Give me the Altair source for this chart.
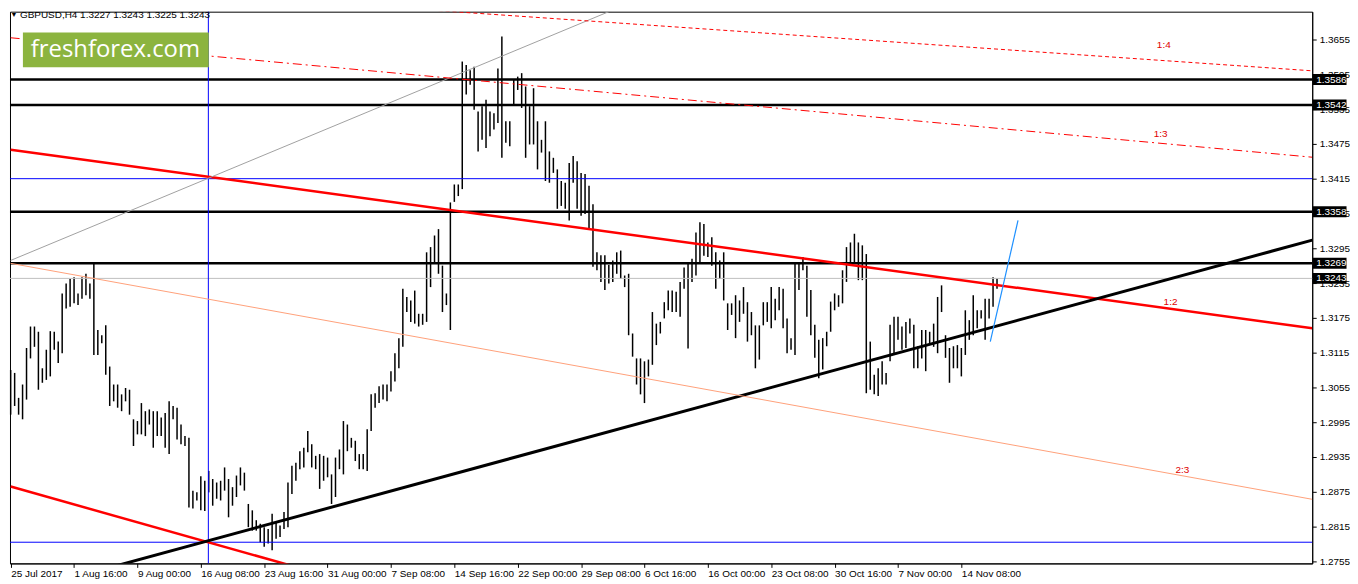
import altair as alt
import pandas as pd

highs = [
    1.3085, 1.3080, 1.3037, 1.3060, 1.3123, 1.3160, 1.3160, 1.3151, 1.3088, 1.3120,
    1.3152, 1.3151, 1.3134, 1.3217, 1.3234, 1.3242, 1.3245, 1.3217, 1.3245, 1.3251,
    1.3234, 1.3268, 1.3154, 1.3145, 1.3162, 1.3091, 1.3060, 1.3060, 1.3043, 1.3054,
    1.3051, 1.3000, 1.2997, 1.3028, 1.3014, 1.3017, 1.3014, 1.3014, 1.3003, 1.3011,
    1.3031, 1.3023, 1.3020, 1.2991, 1.2971, 1.2968, 1.2877, 1.2874, 1.2902, 1.2894,
    1.2911, 1.2897, 1.2891, 1.2894, 1.2917, 1.2897, 1.2883, 1.2903, 1.2917, 1.2908,
    1.2854, 1.2843, 1.2826, 1.2820, 1.2814, 1.2811, 1.2837, 1.2823, 1.2817, 1.2840,
    1.2891, 1.2920, 1.2925, 1.2945, 1.2951, 1.2980, 1.2957, 1.2937, 1.2940, 1.2937,
    1.2934, 1.2905, 1.2934, 1.2948, 1.2997, 1.2991, 1.2968, 1.2963, 1.2940, 1.2940,
    1.2983, 1.3043, 1.3045, 1.3057, 1.3060, 1.3060, 1.3083, 1.3114, 1.3140, 1.3225,
    1.3211, 1.3205, 1.3222, 1.3182, 1.3182, 1.3288, 1.3297, 1.3317, 1.3328, 1.3265,
    1.3217, 1.3374, 1.3405, 1.3405, 1.3617, 1.3611, 1.3602, 1.3608, 1.3531, 1.3540,
    1.3551, 1.3531, 1.3528, 1.3605, 1.3660, 1.3514, 1.3514, 1.3585, 1.3591, 1.3597,
    1.3574, 1.3540, 1.3571, 1.3514, 1.3482, 1.3514, 1.3462, 1.3451, 1.3431, 1.3411,
    1.3408, 1.3442, 1.3454, 1.3445, 1.3425, 1.3423, 1.3403, 1.3371, 1.3288, 1.3283,
    1.3283, 1.3266, 1.3274, 1.3288, 1.3291, 1.3248, 1.3251, 1.3148, 1.3105, 1.3105,
    1.3100, 1.3103, 1.3185, 1.3165, 1.3168, 1.3202, 1.3222, 1.3222, 1.3220, 1.3237,
    1.3262, 1.3271, 1.3277, 1.3322, 1.3340, 1.3337, 1.3305, 1.3314, 1.3288, 1.3274,
    1.3288, 1.3200, 1.3200, 1.3214, 1.3205, 1.3228, 1.3202, 1.3185, 1.3162, 1.3162,
    1.3202, 1.3202, 1.3228, 1.3208, 1.3228, 1.3225, 1.3174, 1.3140, 1.3268, 1.3271,
    1.3280, 1.3265, 1.3223, 1.3163, 1.3137, 1.3140, 1.3151, 1.3203, 1.3217, 1.3214,
    1.3257, 1.3297, 1.3305, 1.3320, 1.3305, 1.3300, 1.3285, 1.3134, 1.3077, 1.3088,
    1.3100, 1.3080, 1.3163, 1.3177, 1.3177, 1.3160, 1.3168, 1.3174, 1.3163, 1.3126,
    1.3154, 1.3154, 1.3151, 1.3165, 1.3211, 1.3231, 1.3145, 1.3123, 1.3126, 1.3128,
    1.3123, 1.3188, 1.3171, 1.3214, 1.3188, 1.3188, 1.3208, 1.3208, 1.3245, 1.3243,
]
lows = [
    1.3008, 1.3023, 1.3008, 1.3000, 1.3034, 1.3105, 1.3125, 1.3051, 1.3063, 1.3068,
    1.3074, 1.3120, 1.3097, 1.3114, 1.3191, 1.3194, 1.3200, 1.3197, 1.3208, 1.3214,
    1.3208, 1.3111, 1.3111, 1.3131, 1.3077, 1.3023, 1.3031, 1.3020, 1.3014, 1.3031,
    1.3008, 1.2954, 1.2974, 1.2974, 1.2971, 1.2991, 1.2951, 1.2971, 1.2971, 1.2951,
    1.2940, 1.3000, 1.2965, 1.2957, 1.2954, 1.2848, 1.2846, 1.2860, 1.2843, 1.2842,
    1.2874, 1.2851, 1.2863, 1.2860, 1.2877, 1.2831, 1.2851, 1.2866, 1.2886, 1.2877,
    1.2814, 1.2808, 1.2808, 1.2788, 1.2780, 1.2786, 1.2774, 1.2794, 1.2797, 1.2811,
    1.2814, 1.2871, 1.2894, 1.2914, 1.2917, 1.2943, 1.2917, 1.2914, 1.2880, 1.2894,
    1.2900, 1.2854, 1.2866, 1.2914, 1.2905, 1.2945, 1.2951, 1.2928, 1.2914, 1.2914,
    1.2911, 1.2980, 1.3020, 1.3028, 1.3034, 1.3031, 1.3048, 1.3065, 1.3088, 1.3125,
    1.3185, 1.3168, 1.3165, 1.3160, 1.3163, 1.3168, 1.3228, 1.3271, 1.3251, 1.3185,
    1.3197, 1.3154, 1.3375, 1.3385, 1.3397, 1.3560, 1.3577, 1.3534, 1.3462, 1.3482,
    1.3468, 1.3488, 1.3500, 1.3511, 1.3451, 1.3477, 1.3471, 1.3542, 1.3568, 1.3537,
    1.3451, 1.3474, 1.3474, 1.3431, 1.3460, 1.3411, 1.3408, 1.3425, 1.3363, 1.3368,
    1.3363, 1.3343, 1.3408, 1.3363, 1.3351, 1.3354, 1.3328, 1.3263, 1.3257, 1.3237,
    1.3223, 1.3234, 1.3237, 1.3251, 1.3242, 1.3228, 1.3145, 1.3108, 1.3060, 1.3043,
    1.3028, 1.3074, 1.3094, 1.3128, 1.3148, 1.3174, 1.3188, 1.3185, 1.3185, 1.3177,
    1.3225, 1.3122, 1.3237, 1.3248, 1.3271, 1.3282, 1.3280, 1.3265, 1.3225, 1.3242,
    1.3205, 1.3154, 1.3180, 1.3140, 1.3168, 1.3182, 1.3134, 1.3145, 1.3088, 1.3103,
    1.3162, 1.3168, 1.3157, 1.3171, 1.3188, 1.3157, 1.3114, 1.3120, 1.3111, 1.3223,
    1.3257, 1.3177, 1.3145, 1.3106, 1.3071, 1.3086, 1.3126, 1.3151, 1.3188, 1.3194,
    1.3200, 1.3237, 1.3271, 1.3271, 1.3240, 1.3240, 1.3045, 1.3051, 1.3043, 1.3040,
    1.3060, 1.3060, 1.3100, 1.3114, 1.3137, 1.3120, 1.3123, 1.3148, 1.3088, 1.3088,
    1.3105, 1.3083, 1.3131, 1.3125, 1.3114, 1.3185, 1.3106, 1.3063, 1.3088, 1.3088,
    1.3074, 1.3111, 1.3137, 1.3145, 1.3157, 1.3174, 1.3137, 1.3174, 1.3194, 1.3225,
]

# time axis: one tick every 16 entries
tick_labels = [
    "25 Jul 2017", "1 Aug 16:00", "9 Aug 00:00", "16 Aug 08:00", "23 Aug 16:00",
    "31 Aug 00:00", "7 Sep 08:00", "14 Sep 16:00", "22 Sep 00:00", "29 Sep 08:00",
    "6 Oct 16:00", "16 Oct 00:00", "23 Oct 08:00", "30 Oct 16:00", "7 Nov 00:00",
    "14 Nov 08:00",
]
price_ticks = [1.2755, 1.2815, 1.2875, 1.2935, 1.2995, 1.3055, 1.3115, 1.3175,
               1.3235, 1.3295, 1.3355, 1.3415, 1.3475, 1.3535, 1.3595, 1.3655]

# horizontal levels
thick_levels = [1.3586, 1.3542, 1.3358, 1.3269]
blue_levels = [1.3415, 1.2788]
bid_price = 1.3243
marked_prices = [1.3586, 1.3542, 1.3358, 1.3269, 1.3243]
vline_at = [49.9]

# drawn trend / fan lines: (bar position, price) at both ends
line_names = ["fan_1_2", "red_low", "black_trend", "fan_2_3", "gray", "fan_1_4", "fan_1_3", "blue"]
line_i0 = [0.0, 0.0, 20.0, 0.0, 0.0, 80.0, 0.0, 247.3]
line_p0 = [1.3465, 1.2884, 1.2735, 1.3269, 1.3274, 1.3718, 1.3658, 1.3134]
line_i1 = [328.6, 80.0, 328.6, 328.6, 170.0, 328.6, 328.6, 254.3]
line_p1 = [1.3157, 1.2730, 1.3309, 1.2862, 1.3757, 1.3601, 1.3452, 1.3343]

fan_text = ["1:4", "1:3", "1:2", "2:3"]
fan_text_i = [291.1, 290.3, 292.8, 295.8]
fan_text_p = [1.3645, 1.3492, 1.3202, 1.2913]

header = "GBPUSD,H4  1.3227 1.3243 1.3225 1.3243"

FONT = "Liberation Sans"
x_scale = alt.Scale(domain=[-0.175, 328.575], nice=False, zero=False)
y_scale = alt.Scale(domain=[1.27515, 1.37030], nice=False, zero=False)

label_js = "[" + ",".join(f"'{s}'" for s in tick_labels) + "][round(datum.value / 16)]"
x_axis = alt.Axis(values=[16 * k for k in range(len(tick_labels))], labelExpr=label_js,
                  labelAlign="left", labelPadding=1, tickSize=4, labelOverlap=False,
                  labelFlush=False, title="", zindex=0)
y_axis = alt.Axis(orient="right", values=price_ticks, format=".4f", tickSize=4,
                  labelPadding=3, labelOverlap=False, labelFlush=False, title="", zindex=0)


def xq(field):
    return alt.X(field, type="quantitative", scale=x_scale, axis=x_axis)


def yq(field):
    return alt.Y(field, type="quantitative", scale=y_scale, axis=y_axis)


bars_df = pd.DataFrame({"i": list(range(len(highs))), "high": highs, "low": lows})
bars = alt.Chart(bars_df).mark_rule(color="black", strokeWidth=1.5).encode(
    x=xq("i"), y=yq("low"), y2="high"
)

levels = alt.Chart(pd.DataFrame({"price": thick_levels})).mark_rule(
    color="black", strokeWidth=2.5
).encode(y=yq("price"))
blues = alt.Chart(pd.DataFrame({"price": blue_levels})).mark_rule(
    color="#0000ff", strokeWidth=1
).encode(y=yq("price"))
bid = alt.Chart(pd.DataFrame({"price": [bid_price]})).mark_rule(
    color="#c0c0c0", strokeWidth=1
).encode(y=yq("price"))
vline = alt.Chart(pd.DataFrame({"i": vline_at})).mark_rule(
    color="#0000ff", strokeWidth=1
).encode(x=xq("i"))

lines_df = pd.DataFrame({"name": line_names, "i0": line_i0, "p0": line_p0,
                         "i1": line_i1, "p1": line_p1})
line_style = {
    "fan_1_2": dict(color="#ff0000", strokeWidth=2.5),
    "red_low": dict(color="#ff0000", strokeWidth=2.5),
    "black_trend": dict(color="black", strokeWidth=3),
    "fan_2_3": dict(color="#ffa07a", strokeWidth=1),
    "gray": dict(color="#a0a0a0", strokeWidth=1),
    "fan_1_4": dict(color="#ff0000", strokeWidth=1, strokeDash=[4, 3]),
    "fan_1_3": dict(color="#ff0000", strokeWidth=1, strokeDash=[9, 4, 2, 4]),
    "blue": dict(color="#1e90ff", strokeWidth=1.2),
}
trend_layers = [
    alt.Chart(lines_df[lines_df["name"] == n]).mark_rule(clip=True, **style).encode(
        x=xq("i0"), x2="i1", y=yq("p0"), y2="p1"
    )
    for n, style in line_style.items()
]

fan_labels = alt.Chart(pd.DataFrame({"t": fan_text, "i": fan_text_i, "p": fan_text_p})).mark_text(
    color="#e00000", font=FONT, fontSize=10
).encode(x=xq("i"), y=yq("p"), text="t:N")

# black price markers on the right-hand scale
boxes_df = pd.DataFrame({"price": marked_prices})
boxes = alt.Chart(boxes_df).mark_tick(
    orient="horizontal", size=34, thickness=11, color="black", opacity=1
).encode(x=alt.value(1327.5), y=yq("price"))
box_text = alt.Chart(boxes_df).mark_text(
    align="left", baseline="middle", color="white", font=FONT, fontSize=10
).encode(x=alt.value(1314), y=yq("price"), text=alt.Text("price:Q", format=".4f"))

one = pd.DataFrame({"t": [header]})
arrow = alt.Chart(one).mark_text(text="▼", fontSize=7, color="black").encode(
    x=alt.value(4), y=alt.value(3)
)
head = alt.Chart(one).mark_text(
    align="left", baseline="middle", font=FONT, fontSize=10, color="black"
).encode(x=alt.value(10), y=alt.value(3), text="t:N")
logo_box = alt.Chart(one).mark_rect(color="#8cb43f").encode(
    x=alt.value(13), x2=alt.value(200), y=alt.value(21), y2=alt.value(56)
)
logo_text = alt.Chart(pd.DataFrame({"t": ["freshforex.com"]})).mark_text(
    font="Open Sans", fontSize=24, color="white", baseline="middle"
).encode(x=alt.value(106), y=alt.value(39), text="t:N")

chart = alt.layer(
    bars, levels, blues, bid, vline, *trend_layers, fan_labels,
    boxes, box_text, arrow, head, logo_box, logo_text
).properties(
    width=1310, height=555, padding=0, background="white"
).configure_axis(
    labelFont=FONT, labelFontSize=10, labelColor="black",
    tickColor="black", domainColor="black", grid=False
).configure_view(stroke="black", strokeWidth=1)

chart.save("out.html", embed_options={"renderer": "svg", "actions": False})
